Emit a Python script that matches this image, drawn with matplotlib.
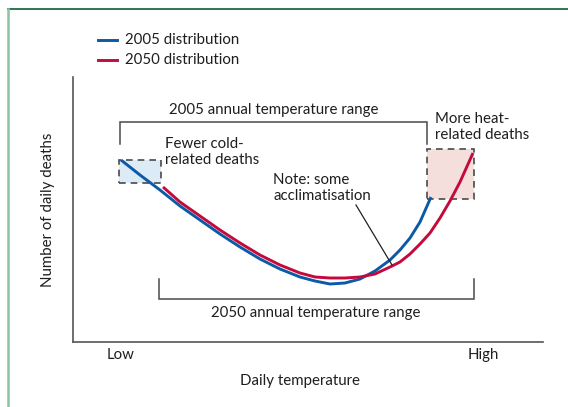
import matplotlib
matplotlib.use("Agg")
import matplotlib.pyplot as plt
from matplotlib.patches import Rectangle
from matplotlib.lines import Line2D

# schematic values (temperature units, deaths units)
temp_2005 = [48, 67, 87, 107, 127, 147, 167, 187, 207, 227, 242, 257, 272, 287,
             302, 317, 327, 337, 347, 358]
deaths_2005 = [182, 167, 152, 136, 122, 108, 95, 83, 73, 65, 61, 58, 59, 63,
               71, 82, 92, 104, 120, 145]
temp_2050 = [90, 107, 127, 147, 167, 187, 207, 227, 242, 257, 272, 287, 302,
             317, 327, 337, 347, 357, 367, 377, 387, 400]
deaths_2050 = [155, 140, 126, 112, 99, 87, 77, 69, 65, 64, 64, 65, 68, 75,
               80, 88, 98, 109, 124, 141, 160, 189]

range_2005 = (47, 354)
range_2050 = (86, 401)
cold_box = (46, 88, 159, 182)   # x0, x1, y0, y1
heat_box = (354, 401, 143, 193)

W, H = 568, 407
BLUE = "#0b5aa6"
RED = "#c40a3c"
GREY = "#4a4a4a"
TXT = "#1e1e1e"

plt.rcParams["font.family"] = ["Lato", "DejaVu Sans"]

fig = plt.figure(figsize=(W / 100, H / 100), dpi=100)


def fx(x):
    return x / W


def fy(y):
    return 1 - y / H


ax = fig.add_axes([fx(73), fy(342), 470 / W, 265 / H])
ax.set_xlim(0, 470)
ax.set_ylim(0, 265)
for s in ["top", "right"]:
    ax.spines[s].set_visible(False)
for s in ["left", "bottom"]:
    ax.spines[s].set_color("#555555")
    ax.spines[s].set_linewidth(1.2)
ax.set_xticks([])
ax.set_yticks([])
ax.patch.set_alpha(0)

# boxes
ax.add_patch(Rectangle((cold_box[0], cold_box[2]), cold_box[1] - cold_box[0],
                       cold_box[3] - cold_box[2], facecolor="#dcebf6",
                       edgecolor=GREY, ls=(0, (4, 3)), lw=1.2, zorder=1))
ax.add_patch(Rectangle((heat_box[0], heat_box[2]), heat_box[1] - heat_box[0],
                       heat_box[3] - heat_box[2], facecolor="#f5dfdd",
                       edgecolor=GREY, ls=(0, (4, 3)), lw=1.2, zorder=1))

# brackets
ax.plot([range_2005[0], range_2005[0], range_2005[1], range_2005[1]],
        [198, 220, 220, 198], color=GREY, lw=1.1, solid_joinstyle="miter")
ax.plot([range_2050[0], range_2050[0], range_2050[1], range_2050[1]],
        [63, 43, 43, 63], color=GREY, lw=1.1, solid_joinstyle="miter")

# curves
ax.plot(temp_2005, deaths_2005, color=BLUE, lw=2.1, zorder=3,
        solid_capstyle="butt", solid_joinstyle="round")
ax.plot(temp_2050, deaths_2050, color=RED, lw=2.1, zorder=3,
        solid_capstyle="butt", solid_joinstyle="round")

# acclimatisation pointer
ax.plot([283, 319], [137, 77], color="#222222", lw=0.9, zorder=4)

fs = 10.8
ax.text(201, 232, "2005 annual temperature range", ha="center", va="center",
        fontsize=fs, color=TXT)
ax.text(243, 29, "2050 annual temperature range", ha="center", va="center",
        fontsize=fs, color=TXT)
ax.text(92, 190, "Fewer cold-\nrelated deaths", ha="left", va="center",
        fontsize=fs, color=TXT, linespacing=1.2)
ax.text(200, 154, "Note: some\nacclimatisation", ha="left", va="center",
        fontsize=fs, color=TXT, linespacing=1.2)
ax.text(362, 215, "More heat-\nrelated deaths", ha="left", va="center",
        fontsize=fs, color=TXT, linespacing=1.2)

# axis words
fig.text(fx(121), fy(355), "Low", ha="center", va="center", fontsize=fs, color=TXT)
fig.text(fx(483), fy(355), "High", ha="center", va="center", fontsize=fs, color=TXT)
fig.text(fx(300), fy(381), "Daily temperature", ha="center", va="center",
         fontsize=fs, color=TXT)
fig.text(fx(48), fy(210), "Number of daily deaths", ha="center", va="center",
         rotation=90, fontsize=fs, color=TXT)

# legend
for yy, col, lab in [(40, BLUE, "2005 distribution"), (60, RED, "2050 distribution")]:
    fig.add_artist(Line2D([fx(98), fx(117)], [fy(yy), fy(yy)], color=col, lw=2.1))
    fig.text(fx(125), fy(yy), lab, ha="left", va="center", fontsize=fs, color=TXT)

# panel frame
fig.add_artist(Line2D([fx(8), fx(W)], [fy(9), fy(9)], color="#1f6b45", lw=1.3))
fig.add_artist(Line2D([fx(8), fx(8)], [fy(9), fy(H)], color="#8cc4a0", lw=1.8))

fig.savefig("out.png", dpi=100)
